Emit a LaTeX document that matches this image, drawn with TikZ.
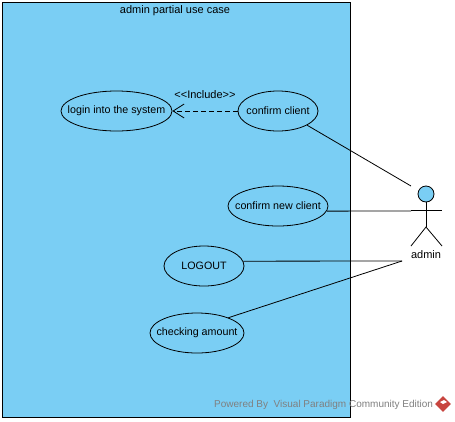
\documentclass[tikz,border=0pt]{standalone}
\usepackage{fontspec}
\setmainfont{Liberation Sans}
\usepackage{xcolor}
\usetikzlibrary{arrows.meta,shapes.geometric}
\definecolor{vpblue}{HTML}{7ACEF4}
\definecolor{vpred}{HTML}{C8453F}
\newcommand{\uclabel}[1]{\makebox[0pt]{\raisebox{-1pt}{#1}}}
\tikzset{
  usecase/.style={draw,ellipse,fill=vpblue,minimum width=#1,minimum height=40pt,inner sep=0pt,font=\fontsize{10.7}{12}\selectfont,line width=0.8pt},
  lab/.style={font=\fontsize{11}{12}\selectfont,inner sep=0pt},
  conn/.style={line width=0.8pt},
  incl/.style={line width=0.8pt,dash pattern=on 5pt off 3pt,-{Straight Barb[length=11pt,width=14pt,line width=0.8pt]}},
}
\begin{document}
\begin{tikzpicture}[x=1pt,y=-1pt]
\useasboundingbox (0,0) rectangle (455,421);
\fill[white] (0,0) rectangle (455,421);
\draw[fill=vpblue,line width=1pt] (2,2) rectangle (350,417);
\node[lab] (title) at (175,11) {admin partial use case};
% use cases
\node[usecase=111pt] (login) at (116.5,111) {\uclabel{login into the system}};
\node[usecase=80pt] (confirm) at (278,111) {\uclabel{confirm client}};
\node[usecase=100pt] (newclient) at (278,206) {\uclabel{confirm new client}};
\node[usecase=80pt] (logout) at (204,266) {\uclabel{LOGOUT}};
\node[usecase=94pt] (amount) at (197,333) {\uclabel{checking amount}};
\draw[incl] (confirm.west) -- (login.east);
\node[lab] (include) at (205,94.5) {<{}<Include>{}>};
% actor
\node[draw,circle,fill=vpblue,minimum size=16pt,inner sep=0pt,line width=0.8pt] (head) at (426,194) {};
\coordinate (hip) at (426,227);
\coordinate (armL) at (411,210.5);
\coordinate (armR) at (442,210.5);
\coordinate (legL) at (411,246);
\coordinate (legR) at (442,246);
\draw[conn] (head.south) -- (hip);
\draw[conn] (armL) -- (armR);
\draw[conn] (legL) -- (hip) -- (legR);
\node[lab] (admin) at (426,255) {admin};
% associations
\coordinate (endA) at (411,186);
\coordinate (endB) at (411,211);
\coordinate (endC) at (402,261);
\draw[conn] (confirm.-26) -- (endA);
\draw[conn] (newclient.-6) -- (endB);
\draw[conn] (logout.7) -- (endC);
\draw[conn] (amount.26) -- (endC);
% watermark
\node[lab,text=black!50,anchor=west,font=\fontsize{10}{12}\selectfont] (mark) at (214,405) {Powered By\ \ Visual Paradigm Community Edition};
\node[draw=none,fill=vpred,diamond,minimum size=16pt,inner sep=0pt] (logo) at (443,404) {};
\fill[white] (logo.center) -- ++(4,-2) -- ++(-3,-2) -- ++(-4,2) -- cycle;
\end{tikzpicture}
\end{document}
